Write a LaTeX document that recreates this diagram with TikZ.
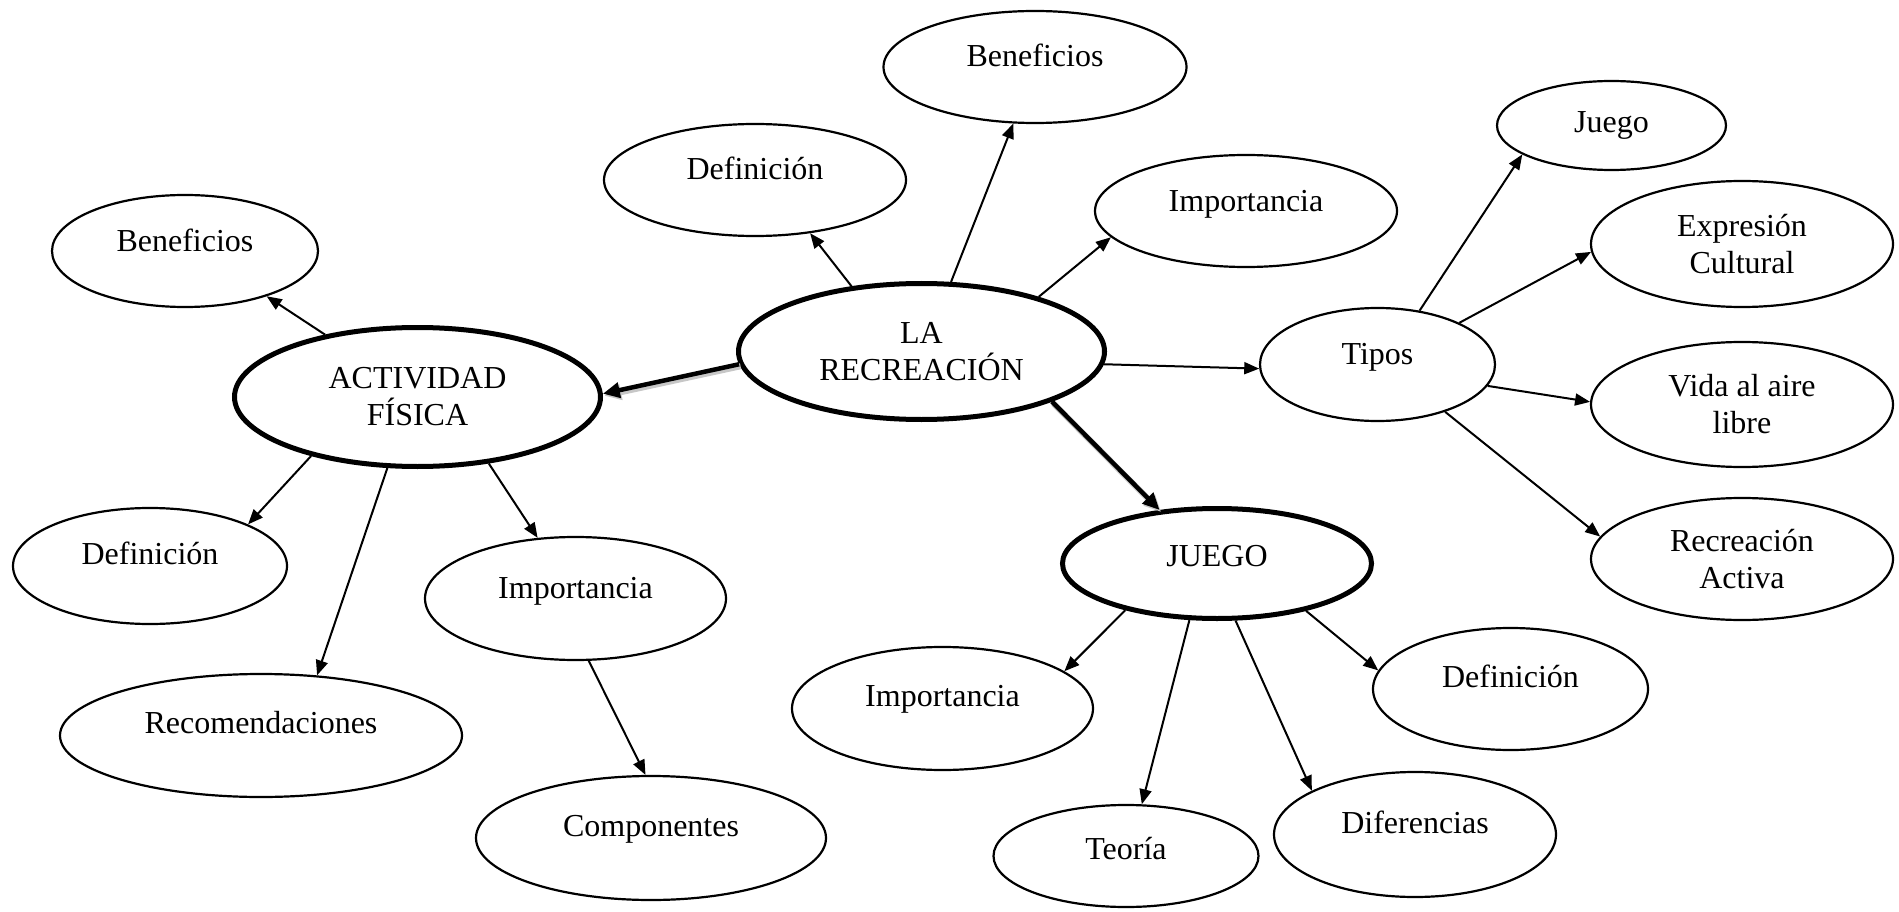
\documentclass[tikz,border=0pt]{standalone}
\usepackage{fontspec}
\setmainfont{Liberation Serif}
\usetikzlibrary{shapes.geometric,arrows.meta}
\begin{document}
\begin{tikzpicture}[x=1pt,y=-1pt,
  bub/.style={ellipse, draw, line width=2.2pt, inner sep=0pt, align=center,
    font=\fontsize{32}{37}\selectfont},
  main/.style={bub, line width=5pt},
  one/.style={text height=0pt, text depth=0pt},
  arr/.style={-{Triangle[length=15pt,width=12pt]}, line width=2pt},
  thk/.style={-{Triangle[length=17pt,width=15pt]}, line width=4.5pt,
    preaction={draw=black!22, line width=6pt, transform canvas={shift={(1.5pt,-2pt)}}}},
]
\useasboundingbox[fill=white] (0,0) rectangle (1899,912);

% main nodes
\node[main, minimum width=366pt, minimum height=136pt] (lr) at (921.5,351.5) {LA\\RECREACIÓN};
\node[main, minimum width=366pt, minimum height=139pt] (af) at (417.5,397) {ACTIVIDAD\\FÍSICA};
\node[main, minimum width=309pt, minimum height=110pt, one, text height=5pt] (jg) at (1217,563.5) {JUEGO};
\node[bub, minimum width=235pt, minimum height=113pt, one] (tipos) at (1377.5,364.5) {Tipos};

% around LA RECREACION
\node[bub, minimum width=302pt, minimum height=112pt, one] (def1) at (755,180) {Definición};
\node[bub, minimum width=303pt, minimum height=112pt, one] (ben1) at (1035,67) {Beneficios};
\node[bub, minimum width=302pt, minimum height=112pt, one, text height=2pt] (imp1) at (1246,211) {Importancia};

% around ACTIVIDAD FISICA
\node[bub, minimum width=266pt, minimum height=112pt, one, text height=2pt] (ben2) at (185,251) {Beneficios};
\node[bub, minimum width=274pt, minimum height=116pt, one, text depth=4pt] (def2) at (150,566) {Definición};
\node[bub, minimum width=402pt, minimum height=123pt, one, text depth=5pt] (rec) at (261,735.5) {Recomendaciones};
\node[bub, minimum width=301pt, minimum height=123pt, one] (imp2) at (575.5,598.5) {Importancia};
\node[bub, minimum width=350pt, minimum height=124pt, one, text depth=4pt] (comp) at (651,838) {Componentes};

% around JUEGO
\node[bub, minimum width=301pt, minimum height=123pt, one, text depth=5pt] (imp3) at (942.5,708.5) {Importancia};
\node[bub, minimum width=265pt, minimum height=102pt, one, text height=6pt] (teo) at (1126,856) {Teoría};
\node[bub, minimum width=282pt, minimum height=125pt, one, text depth=3pt] (dif) at (1415,834.5) {Diferencias};
\node[bub, minimum width=275pt, minimum height=122pt, one, text depth=4pt] (def3) at (1510.5,689) {Definición};

% Tipos
\node[bub, minimum width=229pt, minimum height=89pt, one, text height=15pt] (juego) at (1611.5,125.5) {Juego};
\node[bub, minimum width=302pt, minimum height=126pt] (expr) at (1742,244) {Expresión\\Cultural};
\node[bub, minimum width=302pt, minimum height=125pt] (vida) at (1742,404.5) {Vida al aire\\libre};
\node[bub, minimum width=302pt, minimum height=122pt] (ract) at (1742,559) {Recreación\\Activa};

% connectors
\draw[thk] (lr.184.2) -- (af.1.2);
\draw[thk] (lr.339.2) -- (jg.137.2);
\draw[arr] (lr.137.1) -- (def1.316);
\draw[arr] (lr.67.5) -- (ben1.249.6);
\draw[arr] (lr.25.1) -- (imp1.191.6);
\draw[arr] (lr.356.5) -- (tipos.182.2);

\draw[arr] (af.146.2) -- (ben2.331);
\draw[arr] (af.209.9) -- (def2.23.7);
\draw[arr] (af.247.7) -- (rec.47.5);
\draw[arr] (af.317.7) -- (imp2.122.1);
\draw[arr] (imp2.282.7) -- (comp.95.4);

\draw[arr] (tipos.52.9) -- (juego.198.8);
\draw[arr] (tipos.27.4) -- (expr.183);
\draw[arr] (tipos.349.1) -- (vida.179.1);
\draw[arr] (tipos.325.5) -- (ract.171.4);

\draw[arr] (jg.207.5) -- (imp3.17);
\draw[arr] (jg.244.8) -- (teo.73.2);
\draw[arr] (jg.288.6) -- (dif.157.9);
\draw[arr] (jg.332) -- (def3.172.7);
\end{tikzpicture}
\end{document}
